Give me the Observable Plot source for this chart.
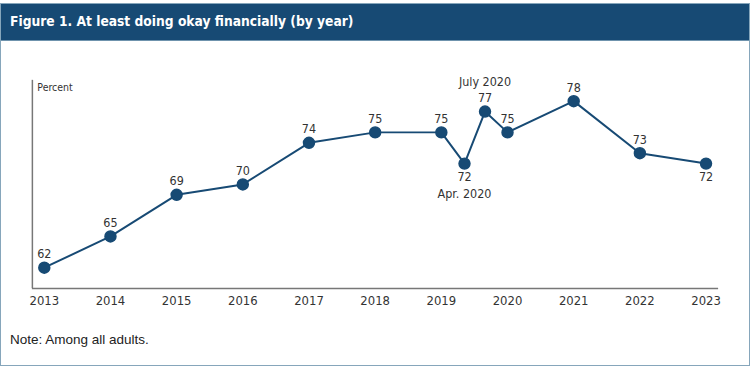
<!DOCTYPE html>
<html>
<head>
<meta charset="utf-8">
<script src="https://cdn.jsdelivr.net/npm/d3@7"></script>
<script src="https://cdn.jsdelivr.net/npm/@observablehq/plot@0.6"></script>
<style>
  html, body { margin: 0; padding: 0; background: #fff; }
  #frame { position: absolute; left: 0; top: 3px; width: 748px; height: 361px; border: 1px solid #86a6bb; background: #fff; overflow: hidden; }
  #header { position: absolute; left: 0; top: 0; width: 748px; height: 36px; background: #174a74; border-bottom: 1px solid #6f93ad; }
  #title { position: absolute; left: 9px; top: 9px; color: #fff; font: bold 13.7px "DejaVu Sans Condensed", "DejaVu Sans", sans-serif; }
  #chart { position: absolute; left: -1px; top: 36px; }
  #note { position: absolute; left: 9px; top: 328px; color: #222; font: 13.5px "Liberation Sans", Arial, sans-serif; }
</style>
</head>
<body>
<div id="frame">
  <div id="header"><div id="title">Figure 1. At least doing okay financially (by year)</div></div>
  <div id="chart"></div>
  <div id="note">Note: Among all adults.</div>
</div>
<script>
// Data
const periods = ["2013", "2014", "2015", "2016", "2017", "2018", "2019", "Apr. 2020", "July 2020", "2020", "2021", "2022", "2023"];
const xPos    = [2013, 2014, 2015, 2016, 2017, 2018, 2019, 2019.35, 2019.66, 2020, 2021, 2022, 2023];
const values  = [62, 65, 69, 70, 74, 75, 75, 72, 77, 75, 78, 73, 72];
const tickYears = [2013, 2014, 2015, 2016, 2017, 2018, 2019, 2020, 2021, 2022, 2023];
const yLabel = "Percent";

const data = periods.map((p, i) => ({period: p, x: xPos[i], value: values[i]}));
const belowSet = new Set(["Apr. 2020", "2023"]);
const above = data.filter(d => !belowSet.has(d.period));
const below = data.filter(d => belowSet.has(d.period));
const dateNotes = data.filter(d => d.period.includes(" "));
const noteAbove = dateNotes.filter(d => !belowSet.has(d.period));
const noteBelow = dateNotes.filter(d => belowSet.has(d.period));

const xMin = 2012.82, xMax = 2023.19, yMin = 60, yMax = 80;
const navy = "#174a74";
const font = "'DejaVu Sans Condensed', 'DejaVu Sans', sans-serif";

const chart = Plot.plot({
  width: 752,
  height: 280,
  marginTop: 40,
  marginBottom: 31,
  marginLeft: 32,
  marginRight: 31,
  style: {fontFamily: font, fontSize: "12px", color: "#333", background: "transparent"},
  x: {domain: [xMin, xMax], axis: null},
  y: {domain: [yMin, yMax], axis: null},
  marks: [
    Plot.ruleY([yMin], {x1: xMin, x2: xMax, stroke: "#777", strokeWidth: 1.5}),
    Plot.ruleX([xMin], {y1: yMin, y2: yMax, stroke: "#777", strokeWidth: 1.5}),
    Plot.axisX(tickYears, {tickSize: 0, tickPadding: 7, tickFormat: d => String(d), fontSize: 13, fill: "#333", label: null}),
    Plot.text([yLabel], {frameAnchor: "top-left", dx: 5, dy: 3, fontSize: 10.5, fill: "#333", textAnchor: "start", lineAnchor: "top"}),
    Plot.line(data, {x: "x", y: "value", stroke: navy, strokeWidth: 2}),
    Plot.dot(data, {x: "x", y: "value", r: 5.5, fill: navy, stroke: navy}),
    Plot.text(above, {x: "x", y: "value", text: d => String(d.value), dy: -13.5, fontSize: 12.5, fill: "#333"}),
    Plot.text(below, {x: "x", y: "value", text: d => String(d.value), dy: 13.5, fontSize: 12.5, fill: "#333"}),
    Plot.text(noteAbove, {x: "x", y: "value", text: "period", dy: -29.5, fontSize: 12.5, fill: "#333"}),
    Plot.text(noteBelow, {x: "x", y: "value", text: "period", dy: 30.5, fontSize: 12.5, fill: "#333"})
  ]
});
document.getElementById("chart").appendChild(chart);
</script>
</body>
</html>
